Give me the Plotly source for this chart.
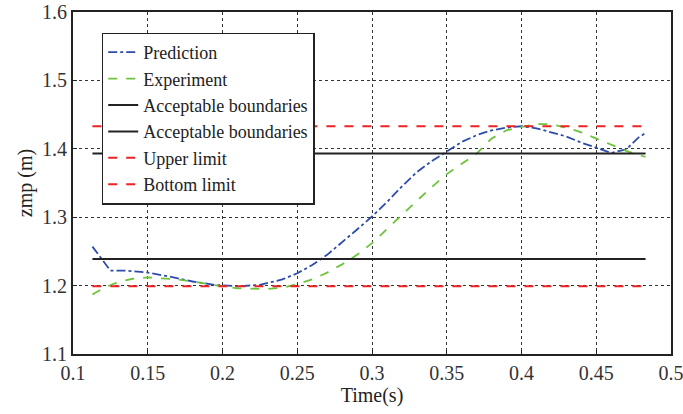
import plotly.graph_objects as go

# Data
t_pred = [0.113, 0.125, 0.135, 0.15, 0.165, 0.18, 0.195, 0.21, 0.225, 0.24, 0.25, 0.26,
          0.27, 0.28, 0.29, 0.30, 0.31, 0.32, 0.33, 0.34, 0.35, 0.36, 0.37, 0.38, 0.39,
          0.40, 0.41, 0.42, 0.43, 0.44, 0.45, 0.46, 0.47, 0.478, 0.483]
zmp_pred = [1.257, 1.222, 1.222, 1.219, 1.213, 1.206, 1.201, 1.199, 1.201, 1.209, 1.218, 1.230,
            1.245, 1.263, 1.282, 1.301, 1.322, 1.345, 1.366, 1.382, 1.396, 1.410, 1.420, 1.427, 1.431,
            1.433, 1.430, 1.424, 1.418, 1.409, 1.401, 1.394, 1.399, 1.416, 1.423]

t_exp = [0.113, 0.12, 0.13, 0.14, 0.15, 0.16, 0.17, 0.18, 0.19, 0.20, 0.21, 0.22, 0.23,
         0.24, 0.25, 0.26, 0.27, 0.28, 0.29, 0.30, 0.31, 0.32, 0.33, 0.34, 0.35, 0.36,
         0.37, 0.38, 0.39, 0.40, 0.41, 0.42, 0.43, 0.44, 0.45, 0.46, 0.47, 0.483]
zmp_exp = [1.187, 1.196, 1.205, 1.210, 1.212, 1.211, 1.209, 1.206, 1.202, 1.199, 1.196, 1.195, 1.195,
           1.197, 1.202, 1.209, 1.219, 1.231, 1.245, 1.262, 1.283, 1.304, 1.324, 1.344, 1.363, 1.378,
           1.393, 1.415, 1.427, 1.432, 1.436, 1.436, 1.431, 1.424, 1.415, 1.406, 1.397, 1.388]

t_range = [0.113, 0.483]
accept_low = 1.239
accept_high = 1.393
upper_limit = 1.433
bottom_limit = 1.199

x_ticks = [0.1, 0.15, 0.2, 0.25, 0.3, 0.35, 0.4, 0.45, 0.5]
x_tick_labels = ["0.1", "0.15", "0.2", "0.25", "0.3", "0.35", "0.4", "0.45", "0.5"]
y_ticks = [1.1, 1.2, 1.3, 1.4, 1.5, 1.6]
y_tick_labels = ["1.1", "1.2", "1.3", "1.4", "1.5", "1.6"]

FONT = "Liberation Serif"
BLUE = "rgb(45,75,170)"
GREEN = "rgb(110,195,60)"
RED = "rgb(235,35,35)"

fig = go.Figure()
fig.add_trace(go.Scatter(x=t_pred, y=zmp_pred, mode="lines", name="Prediction",
                         line=dict(color=BLUE, width=1.8, dash="dashdot")))
fig.add_trace(go.Scatter(x=t_exp, y=zmp_exp, mode="lines", name="Experiment",
                         line=dict(color=GREEN, width=1.8, dash="dash")))
fig.add_trace(go.Scatter(x=t_range, y=[accept_high, accept_high], mode="lines",
                         name="Acceptable boundaries", line=dict(color="#222", width=2)))
fig.add_trace(go.Scatter(x=t_range, y=[accept_low, accept_low], mode="lines",
                         name="Acceptable boundaries", line=dict(color="#222", width=2)))
fig.add_trace(go.Scatter(x=t_range, y=[upper_limit, upper_limit], mode="lines",
                         name="Upper limit", line=dict(color=RED, width=2, dash="dash")))
fig.add_trace(go.Scatter(x=t_range, y=[bottom_limit, bottom_limit], mode="lines",
                         name="Bottom limit", line=dict(color=RED, width=2, dash="dash")))

axis_common = dict(showline=True, linecolor="#222", linewidth=2, mirror=True,
                   showgrid=True, gridcolor="#333", gridwidth=1, griddash="dot",
                   zeroline=False, ticks="inside", ticklen=4, tickcolor="#222",
                   automargin=False, ticklabeloverflow="allow",
                   tickfont=dict(family=FONT, size=20, color="#333"))

fig.update_layout(
    width=683, height=414,
    margin=dict(l=73, r=12, t=12, b=60),
    paper_bgcolor="white", plot_bgcolor="white",
    font=dict(family=FONT, color="#222"),
    xaxis=dict(range=[0.1, 0.5], tickvals=x_ticks, ticktext=x_tick_labels,
               title=dict(text="Time(s)", font=dict(family=FONT, size=20, color="#222"), standoff=0),
               **axis_common),
    yaxis=dict(range=[1.1, 1.6], tickvals=y_ticks, ticktext=y_tick_labels,
               title=dict(text="zmp (m)", font=dict(family=FONT, size=20, color="#222"), standoff=4),
               **axis_common),
    legend=dict(x=0.048, y=0.94, xanchor="left", yanchor="top",
                bgcolor="white", bordercolor="#222", borderwidth=1.5,
                font=dict(family=FONT, size=18, color="#222"),
                tracegroupgap=0, itemwidth=30),
    showlegend=True,
)

fig.write_html("out.html")
